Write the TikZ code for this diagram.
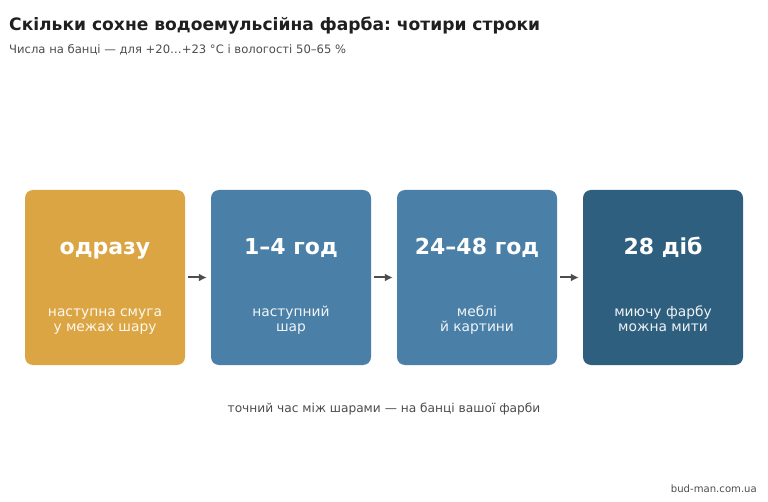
\documentclass[tikz,border=0pt]{standalone}
\usepackage{fontspec}
\setmainfont{DejaVu Sans}
\usepackage{xcolor}
\usetikzlibrary{positioning,calc,arrows.meta}
\frenchspacing
\definecolor{ink}{HTML}{1F1F1F}
\definecolor{muted}{HTML}{4D4D4D}
\definecolor{arr}{HTML}{4D4D4D}
\definecolor{gold}{HTML}{DBA543}
\definecolor{steel}{HTML}{4A7FA7}
\definecolor{navy}{HTML}{2E5F7E}
\tikzset{
  card/.style={rounded corners=8pt, minimum width=160pt, minimum height=175pt, inner sep=0pt, draw=none},
  big/.style={text=white, anchor=base, inner sep=0pt, font=\fontsize{22}{26}\selectfont\bfseries},
  small/.style={text=white, text opacity=0.92, anchor=base, inner sep=0pt, font=\fontsize{13.8}{15}\selectfont},
  flow/.style={draw=arr, line width=2pt, -{Latex[length=8pt,width=8pt]}},
  note/.style={text=muted, font=\fontsize{12.2}{14}\selectfont},
}
\begin{document}
\begin{tikzpicture}[x=1pt,y=-1pt]
  \useasboundingbox[fill=white] (0,0) rectangle (768,502);
  % header
  \node[anchor=base west, text=ink, font=\fontsize{17.1}{20}\selectfont\bfseries, inner sep=0pt] (title) at (9,31) {Скільки сохне водоемульсійна фарба: чотири строки};
  \node[anchor=base west, text=muted, font=\fontsize{11.6}{14}\selectfont, inner sep=0pt] (sub) at (9,53.5) {Числа на банці — для +20…+23 °C і вологості 50–65 \%};
  % cards
  \node[card, fill=gold]  (c1) at (105,277.5) {};
  \node[card, fill=steel] (c2) at (291,277.5) {};
  \node[card, fill=steel] (c3) at (477,277.5) {};
  \node[card, fill=navy]  (c4) at (663,277.5) {};
  \foreach \c/\t/\u/\v in {c1/одразу/наступна смуга/у межах шару,
                           c2/1–4 год/наступний/шар,
                           c3/24–48 год/меблі/й картини,
                           c4/28 діб/миючу фарбу/можна мити} {
    \node[big]   at ($(\c)+(0,-23)$) {\t};
    \node[small] at ($(\c)+(0,39.5)$) {\u};
    \node[small] at ($(\c)+(0,54.5)$) {\v};
  }
  % arrows
  \foreach \a/\b in {c1/c2,c2/c3,c3/c4}
    \draw[flow] ([xshift=3pt]\a.east) -- ([xshift=-4pt]\b.west);
  % footer
  \node[note] (foot) at (384,409.5) {точний час між шарами — на банці вашої фарби};
  \node[note, anchor=base east, inner sep=0pt, font=\fontsize{10.1}{12}\selectfont] (site) at (757,492) {bud-man.com.ua};
\end{tikzpicture}
\end{document}
